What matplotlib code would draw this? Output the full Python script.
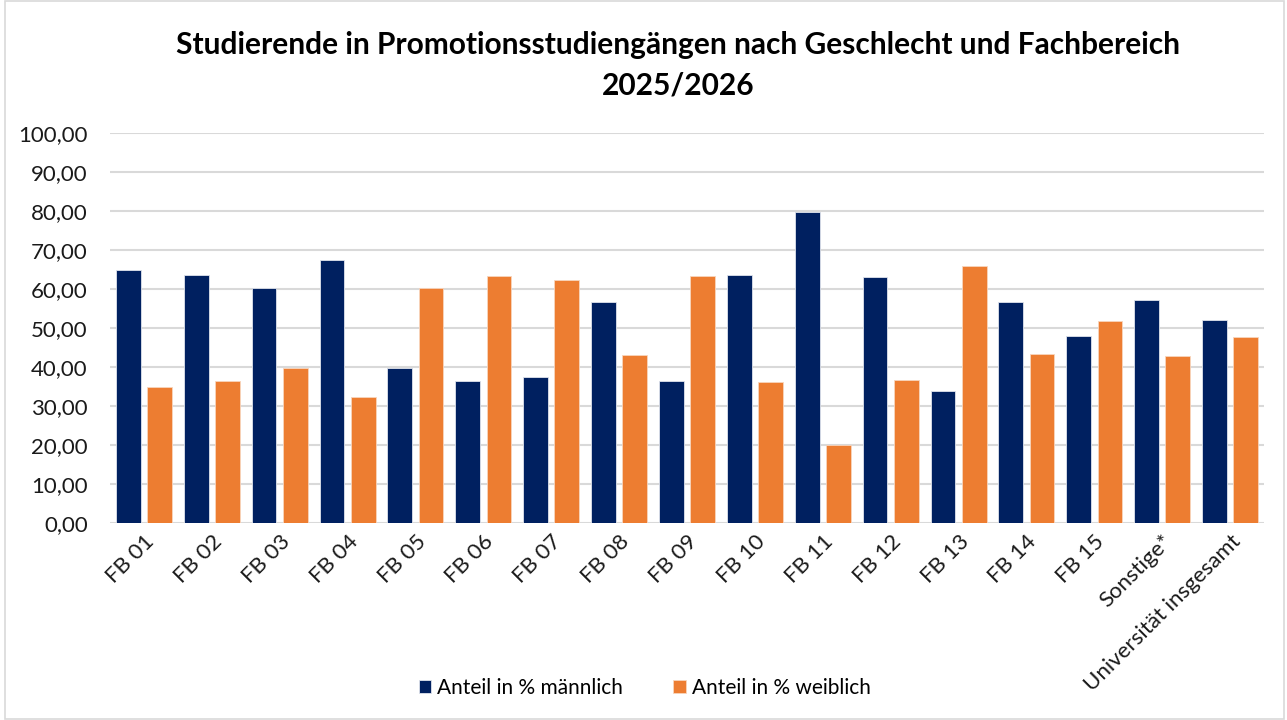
import matplotlib
matplotlib.use('Agg')
import matplotlib.pyplot as plt
import numpy as np
from matplotlib.ticker import FuncFormatter
from matplotlib.patches import Rectangle

plt.rcParams['font.family'] = ['Lato', 'DejaVu Sans']

categories = ["FB 01", "FB 02", "FB 03", "FB 04", "FB 05", "FB 06", "FB 07", "FB 08",
              "FB 09", "FB 10", "FB 11", "FB 12", "FB 13", "FB 14", "FB 15",
              "Sonstige*", "Universität insgesamt"]
maennlich = [65.0, 63.6, 60.3, 67.6, 39.7, 36.5, 37.6, 56.8, 36.6, 63.7, 79.8,
             63.2, 34.0, 56.7, 48.1, 57.2, 52.2]
weiblich = [35.0, 36.4, 39.7, 32.4, 60.3, 63.5, 62.4, 43.2, 63.4, 36.3, 20.2,
            36.8, 66.0, 43.3, 51.9, 42.8, 47.8]
y_ticks = [0, 10, 20, 30, 40, 50, 60, 70, 80, 90, 100]

navy = "#002060"
orange = "#ED7D31"

fig = plt.figure(figsize=(12.87, 7.2), dpi=100)
ax = fig.add_axes([110 / 1287, 1 - 523.3 / 720, (1264 - 110) / 1287, (523.3 - 133.3) / 720])

x = np.arange(len(categories))
w = 0.365
ax.bar(x - 0.23, maennlich, w, color=navy, edgecolor="#dfe3ec", linewidth=0.6,
       label="Anteil in % männlich", zorder=3)
ax.bar(x + 0.23, weiblich, w, color=orange, edgecolor="#f8d5bd", linewidth=0.6,
       label="Anteil in % weiblich", zorder=3)

ax.set_xlim(-0.5, len(categories) - 0.5)
ax.set_ylim(0, 100)
ax.set_yticks(y_ticks)
ax.yaxis.set_major_formatter(FuncFormatter(lambda v, p: f"{v:.2f}".replace(".", ",")))
ax.grid(axis="y", color="#d9d9d9", linewidth=1.5, zorder=0)
for s in ax.spines.values():
    s.set_visible(False)
ax.tick_params(axis="y", length=0, pad=16, labelsize=16, labelcolor="#1a1a1a")
ax.tick_params(axis="x", length=0, pad=6, labelsize=16, labelcolor="#1a1a1a")
ax.set_xticks(x)
ax.set_xticklabels(categories, rotation=45, ha="right", rotation_mode="anchor")

# title, two lines
fig.text(678 / 1287, 1 - 45 / 720, "Studierende in Promotionsstudiengängen nach Geschlecht und Fachbereich",
         ha="center", va="center", fontsize=21.5, fontweight="bold")
fig.text(678 / 1287, 1 - 85 / 720, "2025/2026",
         ha="center", va="center", fontsize=21.5, fontweight="bold")

fig.legend(loc="center", bbox_to_anchor=(0.501, 0.045), ncol=2, frameon=False,
           fontsize=15, handlelength=0.6, handleheight=0.6, columnspacing=2.4,
           handletextpad=0.3)

fig.patches.append(Rectangle((0.004, 0.002), 0.994, 0.996, transform=fig.transFigure,
                             fill=False, edgecolor="#d9d9d9", linewidth=1.2))

fig.savefig("out.png", dpi=100)
